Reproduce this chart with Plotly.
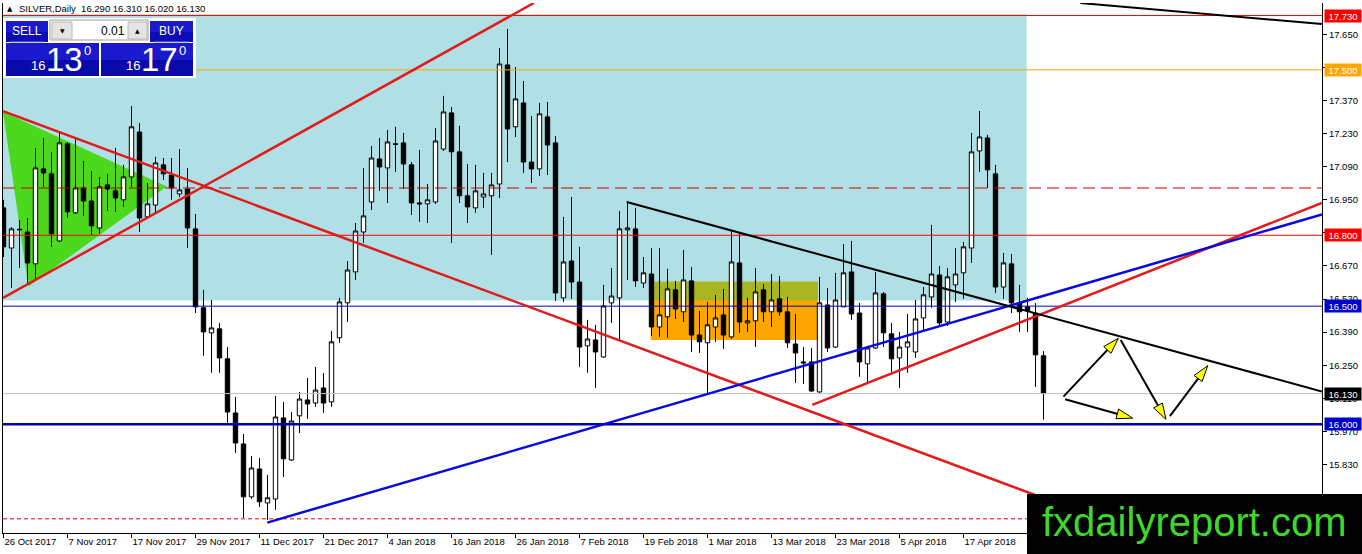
import math
import pandas as pd
import plotly.graph_objects as go

# ---- data (SILVER, Daily) ----
holidays = ["2017-12-25", "2018-01-01", "2018-03-30"]
dates = [d.strftime("%Y-%m-%d") for d in pd.bdate_range("2017-10-26", "2018-05-01")
         if d.strftime("%Y-%m-%d") not in holidays]

open_ = [16.916, 16.746, 16.823, 16.814, 16.679, 17.081, 17.060, 16.776, 17.187, 16.895,
         17.000, 16.945, 16.831, 17.013, 16.988, 16.950, 17.047, 17.237, 16.878, 16.928,
         17.098, 17.055, 16.975, 16.996, 16.827, 16.493, 16.387, 16.404, 16.277, 16.048,
         15.917, 15.693, 15.811, 15.667, 15.684, 16.027, 15.849, 16.036, 16.103, 16.090,
         16.154, 16.095, 16.366, 16.514, 16.645, 16.814, 16.941, 17.123, 17.085, 17.187,
         17.191, 17.098, 16.937, 16.933, 16.941, 17.165, 17.318, 17.153, 16.967, 16.916,
         16.962, 16.967, 17.017, 17.521, 17.259, 17.360, 17.110, 17.081, 17.301, 17.191,
         16.535, 16.691, 16.602, 16.332, 16.357, 16.285, 16.514, 16.535, 16.823, 16.827,
         16.598, 16.636, 16.412, 16.455, 16.569, 16.476, 16.607, 16.378, 16.345, 16.412,
         16.463, 16.370, 16.683, 16.429, 16.438, 16.569, 16.476, 16.531, 16.476, 16.340,
         16.264, 16.264, 16.137, 16.505, 16.327, 16.497, 16.645, 16.471, 16.256, 16.323,
         16.552, 16.383, 16.281, 16.327, 16.306, 16.450, 16.539, 16.632, 16.433, 16.590,
         16.641, 16.746, 17.157, 17.212, 17.060, 16.581, 16.679, 16.514, 16.497, 16.471,
         16.290]
high = [16.950, 16.835, 16.865, 16.873, 17.170, 17.212, 17.153, 17.237, 17.195, 17.212,
        17.115, 17.072, 17.047, 17.060, 17.170, 17.098, 17.347, 17.275, 17.021, 17.132,
        17.127, 17.127, 17.165, 17.085, 16.890, 16.569, 16.526, 16.429, 16.327, 16.116,
        15.959, 15.866, 15.858, 15.786, 16.120, 16.095, 16.052, 16.137, 16.196, 16.243,
        16.217, 16.395, 16.535, 16.691, 16.852, 17.085, 17.178, 17.212, 17.246, 17.259,
        17.233, 17.110, 17.161, 17.017, 17.254, 17.390, 17.343, 17.263, 17.102, 17.098,
        17.064, 17.064, 17.593, 17.673, 17.512, 17.453, 17.305, 17.360, 17.364, 17.220,
        16.878, 16.962, 16.751, 16.442, 16.421, 16.590, 16.662, 16.903, 16.945, 16.916,
        16.708, 16.746, 16.746, 16.658, 16.607, 16.738, 16.666, 16.480, 16.518, 16.547,
        16.573, 16.823, 16.810, 16.535, 16.662, 16.594, 16.636, 16.628, 16.539, 16.467,
        16.327, 16.323, 16.624, 16.577, 16.641, 16.763, 16.776, 16.514, 16.332, 16.645,
        16.560, 16.429, 16.391, 16.467, 16.526, 16.581, 16.844, 16.670, 16.662, 16.746,
        16.772, 17.233, 17.326, 17.225, 17.098, 16.725, 16.721, 16.590, 16.535, 16.514,
        16.310]
low = [16.708, 16.577, 16.662, 16.598, 16.611, 17.005, 16.751, 16.772, 16.874, 16.890,
       16.882, 16.801, 16.806, 16.903, 16.899, 16.920, 17.005, 16.814, 16.869, 16.895,
       17.034, 16.950, 16.962, 16.746, 16.471, 16.290, 16.218, 16.218, 16.006, 15.879,
       15.604, 15.684, 15.650, 15.595, 15.638, 15.777, 15.845, 15.963, 16.023, 16.074,
       16.048, 16.074, 16.345, 16.433, 16.611, 16.768, 16.907, 16.988, 16.937, 17.068,
       16.996, 16.886, 16.857, 16.852, 16.933, 17.157, 16.768, 16.937, 16.852, 16.895,
       16.916, 16.717, 16.958, 17.110, 17.216, 17.064, 17.021, 17.051, 17.055, 16.522,
       16.518, 16.531, 16.243, 16.218, 16.154, 16.281, 16.429, 16.357, 16.611, 16.581,
       16.577, 16.374, 16.370, 16.366, 16.446, 16.433, 16.306, 16.302, 16.129, 16.349,
       16.319, 16.362, 16.387, 16.391, 16.327, 16.433, 16.412, 16.459, 16.323, 16.175,
       16.171, 16.137, 16.133, 16.306, 16.323, 16.497, 16.442, 16.201, 16.175, 16.319,
       16.327, 16.222, 16.154, 16.218, 16.281, 16.400, 16.493, 16.412, 16.416, 16.518,
       16.531, 16.683, 17.068, 17.000, 16.556, 16.531, 16.471, 16.391, 16.391, 16.158,
       16.020]
close = [16.751, 16.827, 16.825, 16.683, 17.085, 17.064, 16.806, 17.191, 16.899, 17.000,
         16.945, 16.840, 17.005, 16.996, 16.958, 17.047, 17.259, 16.873, 16.933, 17.106,
         17.060, 17.000, 16.992, 16.831, 16.497, 16.391, 16.408, 16.281, 16.052, 15.921,
         15.693, 15.815, 15.672, 15.689, 16.031, 15.854, 16.014, 16.107, 16.086, 16.145,
         16.090, 16.349, 16.518, 16.653, 16.818, 16.882, 17.127, 17.089, 17.195, 17.185,
         17.102, 16.937, 16.933, 16.950, 17.199, 17.322, 17.153, 16.967, 16.920, 16.988,
         16.975, 17.013, 17.525, 17.250, 17.377, 17.110, 17.081, 17.314, 17.182, 16.556,
         16.687, 16.602, 16.327, 16.361, 16.306, 16.501, 16.543, 16.827, 16.831, 16.607,
         16.641, 16.412, 16.463, 16.573, 16.488, 16.611, 16.378, 16.349, 16.421, 16.450,
         16.378, 16.687, 16.433, 16.438, 16.560, 16.476, 16.526, 16.476, 16.345, 16.302,
         16.260, 16.141, 16.514, 16.323, 16.526, 16.641, 16.467, 16.264, 16.323, 16.556,
         16.387, 16.277, 16.327, 16.349, 16.446, 16.548, 16.636, 16.429, 16.624, 16.636,
         16.751, 17.153, 17.216, 17.077, 16.581, 16.683, 16.514, 16.476, 16.480, 16.294,
         16.130]

tick_dates = dates[0:121:8]
tick_labels = ["26 Oct 2017", "7 Nov 2017", "17 Nov 2017", "29 Nov 2017", "11 Dec 2017",
               "21 Dec 2017", "4 Jan 2018", "16 Jan 2018", "26 Jan 2018", "7 Feb 2018",
               "19 Feb 2018", "1 Mar 2018", "13 Mar 2018", "23 Mar 2018", "5 Apr 2018",
               "17 Apr 2018"]
price_ticks = [15.690, 15.830, 15.970, 16.110, 16.250, 16.390, 16.530, 16.670,
               16.810, 16.950, 17.090, 17.230, 17.370, 17.510, 17.650]

# horizontal levels and their price labels on the right axis
level_prices = [17.730, 17.500, 16.800, 16.500, 16.130, 16.000]
dashed_level = 17.000
dotted_level = 15.600

# drawn objects (bar index, price)
zone_box = [-1.0, 127.9, 16.524, 17.735]
orange_box = [80.9, 101.8, 16.357, 16.603]
triangle_k = [-0.06, 3.1, 20.4]
triangle_p = [17.323, 16.583, 17.006]
red_lines = [(-0.06, 17.325, 131.0, 15.675),
             (-0.06, 16.535, 66.3, 17.783),
             (101.1, 16.082, 164.8, 16.937)]
blue_lines = [(32.97, 15.584, 164.8, 16.888)]
black_lines = [(77.9, 16.941, 164.8, 16.139),
               (134.6, 17.783, 164.8, 17.694)]
arrow_tail_k = [132.5, 132.7, 139.65, 145.8]
arrow_tail_p = [16.117, 16.106, 16.357, 16.035]
arrow_tip_k = [139.35, 141.15, 145.31, 150.53]
arrow_tip_p = [16.364, 16.026, 16.021, 16.248]

# ---- geometry of the page ----
W, H = 1362, 554
ML, MR, MT, MB = 3, 40, 3, 21
X_RANGE = [-0.0625, 164.8125]
Y_RANGE = [15.540, 17.783]
PX_BAR = (W - ML - MR) / (X_RANGE[1] - X_RANGE[0])
PX_UNIT = (H - MT - MB) / (Y_RANGE[1] - Y_RANGE[0])


def fx(x):
    return (x - ML) / (W - ML - MR)


def fy(y):
    return (H - MB - y) / (H - MT - MB)


fig = go.Figure()

fig.add_trace(go.Candlestick(
    x=dates, open=open_, high=high, low=low, close=close,
    increasing=dict(line=dict(color="black", width=1), fillcolor="white"),
    decreasing=dict(line=dict(color="black", width=1), fillcolor="black"),
    whiskerwidth=0, hoverinfo="skip", showlegend=False))

shapes = []

# background objects
shapes.append(dict(type="rect", xref="x", yref="y", x0=zone_box[0], x1=zone_box[1],
                   y0=zone_box[2], y1=zone_box[3], fillcolor="#B0E0E6",
                   line=dict(width=0), layer="below"))
tri = "M{},{} L{},{} L{},{} Z".format(triangle_k[0], triangle_p[0], triangle_k[1],
                                      triangle_p[1], triangle_k[2], triangle_p[2])
shapes.append(dict(type="path", xref="x", yref="y", path=tri, fillcolor="#4CD81C",
                   line=dict(width=0), layer="below"))
shapes.append(dict(type="rect", xref="x", yref="y", x0=orange_box[0], x1=orange_box[1],
                   y0=orange_box[2], y1=orange_box[3], fillcolor="#FFA500",
                   line=dict(width=0), layer="below"))
shapes.append(dict(type="rect", xref="x", yref="y", x0=orange_box[0], x1=orange_box[1],
                   y0=zone_box[2], y1=orange_box[3], fillcolor="#A9B623",
                   line=dict(width=0), layer="below"))

# horizontal lines
level_styles = [("#FF0000", 1), ("#FFA500", 1), ("#FF0000", 1),
                ("#0000C8", 1), ("#C0C0C0", 1), ("#0000B4", 2.5)]
for lv, (col, w) in zip(level_prices, level_styles):
    shapes.append(dict(type="line", xref="paper", yref="y", x0=0, x1=1, y0=lv, y1=lv,
                       line=dict(color=col, width=w), layer="above"))
shapes.append(dict(type="line", xref="paper", yref="y", x0=0, x1=1,
                   y0=dashed_level, y1=dashed_level,
                   line=dict(color="#C80000", width=1, dash="12px,6px"), layer="above"))
shapes.append(dict(type="line", xref="paper", yref="y", x0=0, x1=1,
                   y0=dotted_level, y1=dotted_level,
                   line=dict(color="#E00000", width=1, dash="4px,3px"), layer="above"))

# trend lines
for group, col, w in [(red_lines, "#E21A1A", 2.5), (blue_lines, "#0A0ADC", 2.5),
                      (black_lines, "black", 2)]:
    for k0, p0, k1, p1 in group:
        shapes.append(dict(type="line", xref="x", yref="y", x0=k0, y0=p0, x1=k1, y1=p1,
                           line=dict(color=col, width=w), layer="above"))

# yellow arrows: black shaft, yellow head with black outline
for k0, p0, k1, p1 in zip(arrow_tail_k, arrow_tail_p, arrow_tip_k, arrow_tip_p):
    dx = (k1 - k0) * PX_BAR
    dy = (p1 - p0) * PX_UNIT
    n = math.hypot(dx, dy)
    ux, uy = dx / n, dy / n
    bx, by = -ux * 16, -uy * 16
    pts = [(0, 0), (bx - uy * 5, by + ux * 5), (bx + uy * 5, by - ux * 5)]
    pts = [(k1 + a / PX_BAR, p1 + b / PX_UNIT) for a, b in pts]
    shapes.append(dict(type="line", xref="x", yref="y", x0=k0, y0=p0,
                       x1=k1 - ux * 8 / PX_BAR, y1=p1 - uy * 8 / PX_UNIT,
                       line=dict(color="black", width=2), layer="above"))
    path = "M{},{} L{},{} L{},{} Z".format(*[c for pt in pts for c in pt])
    shapes.append(dict(type="path", xref="x", yref="y", path=path, fillcolor="#FFFF00",
                       line=dict(color="black", width=1), layer="above"))


def prect(x0, y0, x1, y1, fill, line_col=None):
    return dict(type="rect", xref="paper", yref="paper", x0=fx(x0), x1=fx(x1),
                y0=fy(y1), y1=fy(y0), fillcolor=fill, layer="above",
                line=dict(color=line_col or fill, width=1 if line_col else 0))


# one-click trading panel
shapes.append(prect(3, 18, 196, 78, "white"))
for x0, x1 in [(6, 48), (150, 193)]:
    shapes.append(prect(x0, 21, x1, 42, "#1A1ACC"))
    shapes.append(prect(x0, 32, x1, 42, "#0C0CB4"))
    shapes.append(dict(type="line", xref="paper", yref="paper", x0=fx(x0 + 4), x1=fx(x1 - 4),
                       y0=fy(42), y1=fy(42), line=dict(color="#8C8CE8", width=1),
                       layer="above"))
shapes.append(prect(50, 20, 148, 40, "white", "#A0A0A0"))
shapes.append(prect(52, 22, 72, 39, "#E4E4E4", "#B8B8B8"))
shapes.append(prect(128, 22, 147, 39, "#E4E4E4", "#B8B8B8"))
for x0, x1 in [(6, 99), (101, 193)]:
    shapes.append(prect(x0, 43, x1, 76, "#1A1ACC"))
    shapes.append(prect(x0, 60, x1, 76, "#0A0AA8"))

# watermark
shapes.append(dict(type="rect", xref="paper", yref="paper", x0=fx(1027), x1=fx(1364),
                   y0=fy(556), y1=fy(494), fillcolor="black", line=dict(width=0),
                   layer="above"))

annotations = []


def ptext(x, y, text, size, color, anchor="center", family="Liberation Sans"):
    return dict(xref="paper", yref="paper", x=fx(x), y=fy(y), text=text, showarrow=False,
                xanchor=anchor, yanchor="middle", borderpad=0,
                font=dict(family=family, size=size, color=color))


annotations.append(ptext(6, 9, "▲", 7, "black", "left", "DejaVu Sans"))
annotations.append(ptext(18, 9, "SILVER,Daily\u00a0\u00a016.290 16.310 16.020 16.130",
                         9.5, "black", "left"))
annotations.append(ptext(27, 31, "SELL", 12, "white"))
annotations.append(ptext(171, 31, "BUY", 12, "white"))
annotations.append(ptext(62, 31, "▼", 6, "black", "center", "DejaVu Sans"))
annotations.append(ptext(137.5, 31, "▲", 6, "black", "center", "DejaVu Sans"))
annotations.append(ptext(126, 31, "0.01", 12, "black", "right"))
for xs, big in [(30, "13"), (125, "17")]:
    annotations.append(ptext(xs, 66, "16", 13, "white", "left"))
    annotations.append(ptext(xs + 15, 60, big, 33, "white", "left"))
    annotations.append(ptext(xs + 53, 51, "0", 13, "white", "left"))
annotations.append(ptext(1194, 522, "fxdailyreport.com", 40, "#3FD82A"))

# price labels on the right axis
label_bg = ["#FF0000", "#FFA500", "#FF0000", "#0000CD", "black", "#0000CD"]
for lv, bg in zip(level_prices, label_bg):
    annotations.append(dict(xref="paper", yref="y", x=1, y=lv, text="{:.3f}".format(lv),
                            showarrow=False, xanchor="left", yanchor="middle", xshift=2,
                            bgcolor=bg, width=36, height=12, borderpad=0,
                            font=dict(family="Liberation Sans", size=9.5, color="white")))

fig.update_layout(
    width=W, height=H,
    margin=dict(l=ML, r=MR, t=MT, b=MB, autoexpand=False),
    plot_bgcolor="white", paper_bgcolor="white",
    showlegend=False, boxgap=0.45, boxgroupgap=0,
    shapes=shapes, annotations=annotations,
    font=dict(family="Liberation Sans", size=9.5, color="black"),
)
fig.update_xaxes(type="category", range=X_RANGE, autorange=False, automargin=False,
                 rangeslider=dict(visible=False), showgrid=False, zeroline=False,
                 showline=True, linecolor="black", linewidth=1,
                 ticks="outside", ticklen=4, tickcolor="black",
                 tickvals=tick_dates, ticktext=tick_labels,
                 ticklabelposition="outside right")
fig.update_yaxes(side="right", range=Y_RANGE, autorange=False, automargin=False,
                 showgrid=False, zeroline=False, showline=True, mirror=True,
                 linecolor="black", linewidth=1, ticks="outside", ticklen=4,
                 tickcolor="black", tickvals=price_ticks, tickformat=".3f")

# the page body has a default 8px margin; drop it so the figure sits at the corner
fig.write_html("out.html", config={"displayModeBar": False},
               post_script="document.body.style.margin='0';")
